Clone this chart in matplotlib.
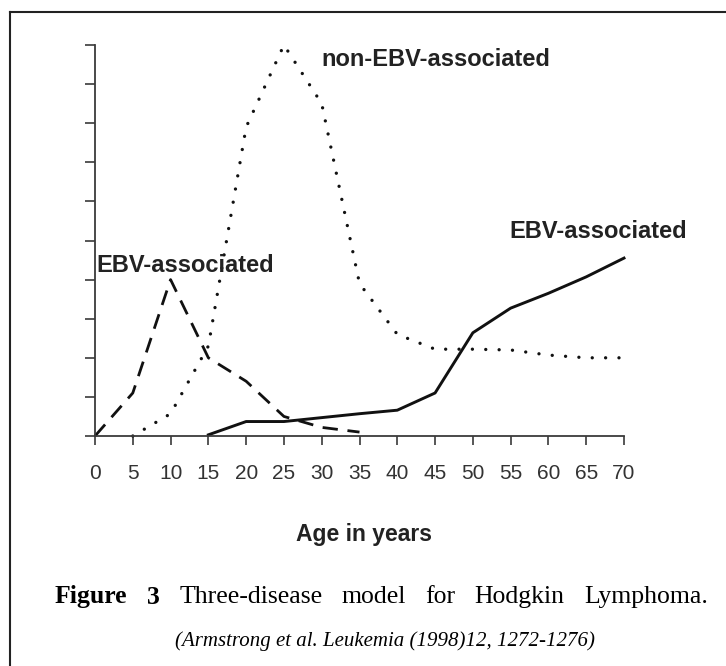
"""
Three-disease model for Hodgkin Lymphoma (Armstrong et al. 1998).
Curvas de incidencia por edad, redibujadas a mano desde la figura.
"""

import matplotlib
matplotlib.use("Agg")
import matplotlib.pyplot as plt
from matplotlib.lines import Line2D

W, H = 726, 666

# Datos (unidades arbitrarias, eje Y 0-10)
AGE_TICKS = list(range(0, 75, 5))

EBV_CHILD_AGE = [0, 5, 10, 15, 20, 25, 30, 35]
EBV_CHILD_VAL = [0, 1.1, 4.0, 2.0, 1.4, 0.5, 0.22, 0.1]

NON_EBV_AGE = [5, 10, 15, 20, 25, 30, 35, 40, 45, 50, 55, 60, 65, 70]
NON_EBV_VAL = [0, 0.57, 2.3, 7.9, 10.0, 8.5, 3.9, 2.6, 2.22, 2.22, 2.2, 2.07, 2.0, 2.0]

EBV_OLD_AGE = [15, 20, 25, 30, 35, 40, 45, 50, 55, 60, 65, 70]
EBV_OLD_VAL = [0.03, 0.37, 0.37, 0.47, 0.57, 0.66, 1.1, 2.64, 3.27, 3.65, 4.07, 4.55]

LABEL_NON_EBV = "non-EBV-associated"
LABEL_EBV = "EBV-associated"
XLABEL = "Age in years"
CAPTION_BOLD = ["Figure", "3"]
CAPTION_REST = ["Three-disease", "model", "for", "Hodgkin", "Lymphoma."]
CITATION = "(Armstrong et al. Leukemia (1998)12, 1272-1276)"

SANS = "Liberation Sans"
SERIF = "Liberation Serif"
INK = "#111111"
AXIS = "#3a3a3a"


def fx(px):
    return px / W


def fy(py):
    return 1 - py / H


fig = plt.figure(figsize=(W / 100, H / 100), dpi=100)
fig.patch.set_facecolor("white")

# marco: sólo borde izquierdo y superior visibles
fig.add_artist(Line2D([fx(10), fx(10)], [0, fy(12)], color="#222222", lw=1.5))
fig.add_artist(Line2D([fx(10), 1], [fy(12), fy(12)], color="#222222", lw=1.5))

ax = fig.add_axes([fx(95), fy(436), fx(624) - fx(95), fy(45) - fy(436)])
ax.set_xlim(0, 70)
ax.set_ylim(0, 10)

ax.plot(EBV_CHILD_AGE, EBV_CHILD_VAL, color=INK, lw=2.0,
        linestyle=(0, (5.5, 3.5)), clip_on=False)
ax.plot(NON_EBV_AGE, NON_EBV_VAL, color=INK, lw=2.4,
        linestyle=(0, (0.01, 4.0)), dash_capstyle="round", clip_on=False)
ax.plot(EBV_OLD_AGE, EBV_OLD_VAL, color=INK, lw=2.1, clip_on=False)

for s in ["top", "right"]:
    ax.spines[s].set_visible(False)
for s in ["left", "bottom"]:
    ax.spines[s].set_color(AXIS)
    ax.spines[s].set_linewidth(1.3)

ax.set_xticks(AGE_TICKS)
ax.set_xticklabels([str(a) for a in AGE_TICKS], fontfamily=SANS,
                   fontsize=15, color="#333333")
ax.set_yticks(range(0, 11))
ax.set_yticklabels([])
ax.tick_params(axis="x", direction="out", length=6.5, width=1.2,
               color=AXIS, pad=14)
ax.tick_params(axis="y", direction="out", length=7, width=1.2, color=AXIS)

lbl = dict(fontfamily=SANS, fontsize=17, fontweight="bold", color="#222222",
           va="center", ha="left")
ax.text(30.0, 9.62, LABEL_NON_EBV, **lbl)
ax.text(54.8, 5.22, LABEL_EBV, **lbl)
ax.text(0.13, 4.37, LABEL_EBV, **lbl)

fig.text(fx(364), fy(535), XLABEL, fontfamily=SANS, fontsize=16.5,
         fontweight="bold", color="#222222", ha="center", va="center")

# pie de figura justificado entre x=55 y x=708
renderer = fig.canvas.get_renderer()
words = []
for w in CAPTION_BOLD:
    words.append(fig.text(0, fy(597), w, fontfamily=SERIF, fontsize=18.5,
                          fontweight="bold", color="black", va="center"))
for w in CAPTION_REST:
    words.append(fig.text(0, fy(597), w, fontfamily=SERIF, fontsize=18.5,
                          color="black", va="center"))
widths = [t.get_window_extent(renderer).width for t in words]
left, right = 55, 708
gap = (right - left - sum(widths)) / (len(words) - 1)
x = left
for t, wd in zip(words, widths):
    t.set_x(fx(x))
    x += wd + gap

fig.text(fx(385), fy(641), CITATION, fontfamily=SERIF, fontsize=15,
         fontstyle="italic", color="black", ha="center", va="center")

fig.savefig("out.png", dpi=100, facecolor="white")
